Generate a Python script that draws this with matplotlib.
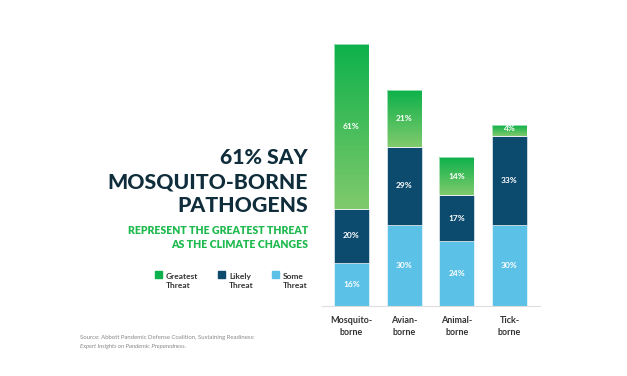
import numpy as np
import matplotlib.pyplot as plt
from matplotlib.colors import LinearSegmentedColormap
from matplotlib.patches import Rectangle

categories = ["Mosquito-\nborne", "Avian-\nborne", "Animal-\nborne", "Tick-\nborne"]
some = [16, 30, 24, 30]
likely = [20, 29, 17, 33]
greatest = [61, 21, 14, 4]

light_blue = "#5bc1e6"
navy = "#0c4a6e"
green_top = "#0db14b"
green_bot = "#80ca6c"
dark_text = "#0f2d3b"
green_text = "#1fba4f"

plt.rcParams["font.family"] = ["Lato", "DejaVu Sans"]

fig = plt.figure(figsize=(6.27, 3.76), dpi=100)
W, H = 627, 376

# axes placed in pixel terms
ax = fig.add_axes([322 / W, 1 - 306 / H, (540 - 322) / W, (306 - 44) / H])
x = np.arange(len(categories))
bw = 0.66

green_cmap = LinearSegmentedColormap.from_list("g", [green_bot, green_top])
grad = np.linspace(0, 1, 100).reshape(-1, 1)

for i in range(len(categories)):
    s, l, g = some[i], likely[i], greatest[i]
    ax.bar(x[i], s, bw, color=light_blue, edgecolor="white", linewidth=0.4)
    ax.bar(x[i], l, bw, bottom=s, color=navy, edgecolor="white", linewidth=0.4)
    b0 = s + l
    ax.imshow(grad, cmap=green_cmap, origin="lower", aspect="auto",
              extent=[x[i] - bw / 2, x[i] + bw / 2, b0, b0 + g], zorder=2)
    ax.add_patch(Rectangle((x[i] - bw / 2, b0), bw, g, fill=False,
                           edgecolor="white", linewidth=0.4, zorder=3))
    for val, base in [(s, 0), (l, s), (g, b0)]:
        ax.text(x[i], base + val / 2 + (0.6 if i == 3 and val == 4 else 0), f"{val}%",
                ha="center", va="center", color="white",
                fontsize=6, fontweight="bold", zorder=4)

ax.set_xlim(-0.56, 3.58)
ax.set_ylim(0, 97)
for sp in ["top", "right", "left"]:
    ax.spines[sp].set_visible(False)
ax.spines["bottom"].set_color("#dddddd")
ax.spines["bottom"].set_linewidth(0.8)
ax.set_yticks([])
ax.set_xticks(x)
ax.set_xticklabels(categories, fontsize=6.5, fontweight="bold", color="#333333",
                   linespacing=1.5)
ax.tick_params(axis="x", length=0, pad=7)

# headline text
def fx(px):
    return px / W

def fy(py):
    return 1 - py / H

for txt, py in [("61% SAY", 158), ("MOSQUITO-BORNE", 182), ("PATHOGENS", 205)]:
    fig.text(fx(308), fy(py), txt, ha="right", va="center", fontsize=15.3,
             fontweight="black", color=dark_text)
for txt, py in [("REPRESENT THE GREATEST THREAT", 230), ("AS THE CLIMATE CHANGES", 244)]:
    fig.text(fx(308), fy(py), txt, ha="right", va="center", fontsize=7.6,
             fontweight="heavy", color=green_text)

# legend
legend_items = [("Greatest\nThreat", green_top, 158), ("Likely\nThreat", navy, 221),
                ("Some\nThreat", light_blue, 275)]
for label, col, px in legend_items:
    fig.patches.append(Rectangle((fx(px - 3.5), fy(278)), 7 / W, 7 / H,
                                 transform=fig.transFigure, color=col))
    fig.text(fx(px + 8), fy(281), label, ha="left", va="center", fontsize=6,
             fontweight="bold", color="#333333", linespacing=1.3)

# source
fig.text(fx(80), fy(337), "Source: Abbott Pandemic Defense Coalition, Sustaining Readiness:",
         ha="left", va="center", fontsize=4.3, color="#888888")
fig.text(fx(80), fy(346), "Expert Insights on Pandemic Preparedness.",
         ha="left", va="center", fontsize=4.3, color="#888888", style="italic")

fig.savefig("out.png", dpi=100)
